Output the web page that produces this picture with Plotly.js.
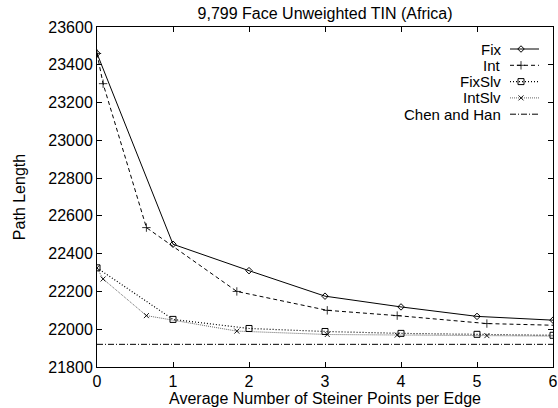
<!DOCTYPE html>
<html>
<head>
<meta charset="utf-8">
<script src="https://cdn.plot.ly/plotly-3.0.1.min.js"></script>
<style>
  html, body { margin: 0; padding: 0; background: #fff; }
  #chart { width: 558px; height: 408px; }
</style>
</head>
<body>
<div id="chart"></div>
<script>
// Average number of Steiner points per edge for each scheme
var stepsFix = [0, 1, 2, 3, 4, 5, 6];
var stepsInt = [0, 0.08, 0.65, 1.84, 3.03, 3.95, 5.13, 6.2];

// Path lengths
var fix    = [23460, 22450, 22310, 22175, 22118, 22068, 22048];
var intv   = [23460, 23300, 22538, 22200, 22100, 22072, 22030, 22019];
var fixSlv = [22325, 22052, 22004, 21988, 21978, 21973, 21968];
var intSlv = [22325, 22266, 22072, 21990, 21972, 21969, 21966, 21963];
var chenHan = 21920;

var seriesNames = ['Fix', 'Int', 'FixSlv', 'IntSlv', 'Chen and Han'];
var yTicks = [21800, 22000, 22200, 22400, 22600, 22800, 23000, 23200, 23400, 23600];
var xTicks = [0, 1, 2, 3, 4, 5, 6];

var FONT = 'Liberation Sans, Arial, Helvetica, sans-serif';

// Per-series styling
var styles = [
  {dash: 'solid',    color: '#000', width: 1,   symbol: 'diamond-open',    size: 5, mw: 1},
  {dash: '4px,3px',  color: '#000', width: 1,   symbol: 'cross-thin-open', size: 6, mw: 0.8},
  {dash: '1px,2px',  color: '#000', width: 1.2, symbol: 'square-open',     size: 6, mw: 1},
  {dash: '1px,1px',  color: '#666', width: 1,   symbol: 'x-thin-open',     size: 5, mw: 0.9},
  {dash: '6px,2px,1px,2px', color: '#000', width: 1, symbol: null, size: 0, mw: 0}
];

function series(x, y, s) {
  var t = {
    x: x, y: y, type: 'scatter',
    mode: s.symbol ? 'lines+markers' : 'lines',
    line: {color: s.color, width: s.width, dash: s.dash},
    showlegend: false, hoverinfo: 'skip', cliponaxis: true
  };
  if (s.symbol) {
    t.marker = {symbol: s.symbol, size: s.size, color: '#000',
                line: {color: '#000', width: s.mw}};
  }
  return t;
}

var traces = [
  series([xTicks[0], xTicks[xTicks.length - 1]], [chenHan, chenHan], styles[4]),
  series(stepsInt, intSlv, styles[3]),
  series(stepsFix, fixSlv, styles[2]),
  series(stepsInt, intv, styles[1]),
  series(stepsFix, fix, styles[0])
];

// Key: labels right-aligned, with a short sample of each line to their right.
// The key lives on an overlay axis pair measured in pixels of the plot area.
var keyTop = 22, keyStep = 16.3, keyTextX = 406, keyLineX0 = 413, keyLineX1 = 442, keyMarkX = 424;
var annotations = [];
seriesNames.forEach(function (name, i) {
  var yy = keyTop + i * keyStep;
  annotations.push({
    text: name, xref: 'x2', yref: 'y2', x: keyTextX, y: yy,
    xanchor: 'right', yanchor: 'middle', showarrow: false,
    font: {family: FONT, size: 15, color: '#000'}
  });
  var s = styles[i];
  traces.push({
    x: [keyLineX0, keyLineX1], y: [yy, yy], xaxis: 'x2', yaxis: 'y2',
    type: 'scatter', mode: 'lines',
    line: {color: s.color, width: s.width, dash: s.dash},
    showlegend: false, hoverinfo: 'skip'
  });
  if (s.symbol) {
    traces.push({
      x: [keyMarkX], y: [yy], xaxis: 'x2', yaxis: 'y2',
      type: 'scatter', mode: 'markers',
      marker: {symbol: s.symbol, size: s.size, color: '#000',
               line: {color: '#000', width: s.mw}},
      showlegend: false, hoverinfo: 'skip'
    });
  }
});

var layout = {
  width: 558, height: 408,
  margin: {l: 97, r: 5, t: 27, b: 41, pad: 0},
  paper_bgcolor: '#fff', plot_bgcolor: '#fff',
  font: {family: FONT, size: 16, color: '#000'},
  title: {
    text: '9,799 Face Unweighted TIN (Africa)',
    font: {family: FONT, size: 16, color: '#000'},
    x: 0.5826, xanchor: 'center', y: 0.968, yanchor: 'middle'
  },
  xaxis: {
    range: [0, 6], tickvals: xTicks, ticktext: xTicks.map(String),
    ticks: 'inside', ticklen: 5, tickwidth: 1, tickcolor: '#000',
    showline: true, linecolor: '#000', linewidth: 1, mirror: 'ticks',
    showgrid: false, zeroline: false,
    tickfont: {family: FONT, size: 16},
    title: {text: 'Average Number of Steiner Points per Edge',
            font: {family: FONT, size: 16}, standoff: 0}
  },
  yaxis: {
    range: [21800, 23600], tickvals: yTicks, ticktext: yTicks.map(String),
    ticks: 'inside', ticklen: 5, tickwidth: 1, tickcolor: '#000',
    showline: true, linecolor: '#000', linewidth: 1, mirror: 'ticks',
    showgrid: false, zeroline: false,
    tickfont: {family: FONT, size: 16},
    title: {text: 'Path Length', font: {family: FONT, size: 16}, standoff: 18}
  },
  xaxis2: {overlaying: 'x', range: [0, 456], visible: false, fixedrange: true},
  yaxis2: {overlaying: 'y', range: [340, 0], visible: false, fixedrange: true},
  annotations: annotations,
  showlegend: false
};

Plotly.newPlot('chart', traces, layout, {staticPlot: true, displayModeBar: false});
</script>
</body>
</html>
